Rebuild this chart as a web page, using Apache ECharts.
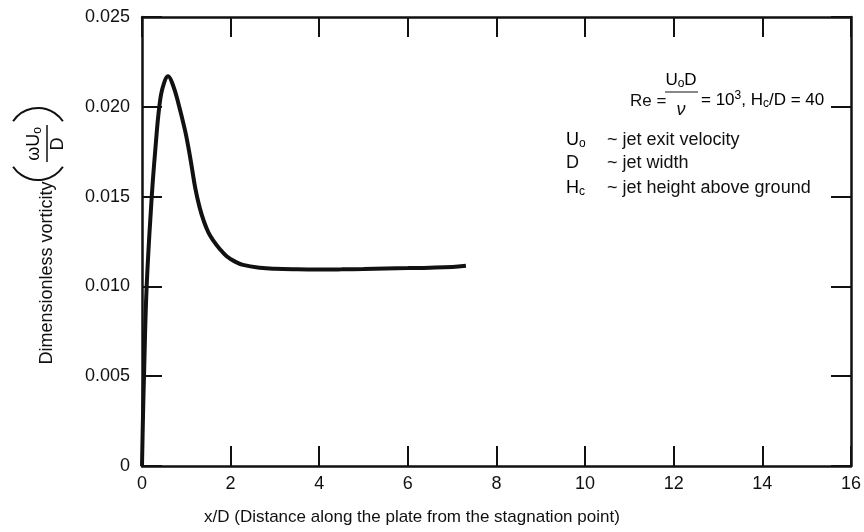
<!DOCTYPE html>
<html>
<head>
<meta charset="utf-8">
<script src="https://cdn.jsdelivr.net/npm/echarts@6/dist/echarts.min.js"></script>
<style>
  html, body { margin: 0; padding: 0; background: #fff; }
  #chart { width: 864px; height: 532px; }
</style>
</head>
<body>
<div id="chart"></div>
<script>
// Distance along the plate, x/D
const xOverD = [0, 0.02, 0.045, 0.105, 0.22, 0.30, 0.39, 0.47, 0.59, 0.70, 0.82, 0.97,
                1.05, 1.12, 1.20, 1.30, 1.40, 1.50, 1.61, 1.75, 1.91, 2.10, 2.28, 2.66,
                3.0, 3.5, 4.0, 4.5, 5.0, 5.5, 6.0, 6.5, 7.0, 7.31];
// Dimensionless vorticity, omega*Uo/D
const vorticity = [0, 0.0025, 0.0050, 0.0100, 0.0150, 0.0176, 0.0200, 0.0211, 0.0217, 0.0212,
                   0.0202, 0.0187, 0.0177, 0.0167, 0.0155, 0.0144, 0.0136, 0.0130, 0.01255,
                   0.0121, 0.01168, 0.01138, 0.0112, 0.01104, 0.01098, 0.01095, 0.01094,
                   0.01095, 0.01097, 0.01100, 0.01102, 0.01104, 0.01108, 0.01115];

const xRange = { min: 0, max: 16, step: 2 };
const yRange = { min: 0, max: 0.025, step: 0.005 };

const FONT = "'Liberation Sans', Arial, Helvetica, sans-serif";
const INK = '#111';

const chart = echarts.init(document.getElementById('chart'), null, { renderer: 'canvas' });

// every side of the frame carries inward ticks
const frameAxis = {
  axisLine: { show: true, onZero: false, lineStyle: { color: INK, width: 2.5 } },
  axisTick: { show: true, inside: true, length: 20, lineStyle: { color: INK, width: 2 } },
  splitLine: { show: false }
};

const sub = (size) => ({ fontSize: size, fontFamily: FONT, color: INK, verticalAlign: 'bottom', padding: [8, 0, 0, 0] });

const option = {
  backgroundColor: '#fff',
  animation: false,
  grid: { left: 142, right: 12, top: 17, bottom: 66 },
  xAxis: [
    Object.assign({
      type: 'value', position: 'bottom',
      min: xRange.min, max: xRange.max, interval: xRange.step,
      axisLabel: { show: true, margin: 9, fontSize: 18, fontFamily: FONT, color: INK }
    }, frameAxis),
    Object.assign({
      type: 'value', position: 'top',
      min: xRange.min, max: xRange.max, interval: xRange.step,
      axisLabel: { show: false }
    }, frameAxis)
  ],
  yAxis: [
    Object.assign({
      type: 'value', position: 'left',
      min: yRange.min, max: yRange.max, interval: yRange.step,
      axisLabel: {
        show: true, margin: 12, fontSize: 18, fontFamily: FONT, color: INK,
        formatter: (v) => (v === 0 ? '0' : v.toFixed(3))
      }
    }, frameAxis),
    Object.assign({
      type: 'value', position: 'right',
      min: yRange.min, max: yRange.max, interval: yRange.step,
      axisLabel: { show: false }
    }, frameAxis)
  ],
  series: [{
    type: 'line',
    xAxisIndex: 0, yAxisIndex: 0,
    data: xOverD.map((x, i) => [x, vorticity[i]]),
    smooth: 0.4,
    showSymbol: false,
    lineStyle: { color: INK, width: 4 },
    z: 3
  }],
  graphic: [
    // x-axis title
    {
      type: 'text', x: 204, y: 517,
      style: { text: 'x/D (Distance along the plate from the stagnation point)', font: '17px ' + FONT, fill: INK, verticalAlign: 'middle' }
    },
    // y-axis title with the (omega Uo / D) group, written bottom-to-top
    {
      type: 'group', x: 47, y: 273, rotation: Math.PI / 2,
      children: [
        { type: 'text', x: 0, y: 0,
          style: { text: 'Dimensionless vorticity', font: '18px ' + FONT, fill: INK, align: 'center', verticalAlign: 'middle' } },
        { type: 'text', x: 129, y: -13,
          style: { text: '{a|ωU}{s|o}', align: 'center', verticalAlign: 'middle',
                   rich: { a: { fontSize: 18, fontFamily: FONT, color: INK }, s: sub(12) } } },
        { type: 'line', shape: { x1: 111, y1: 0, x2: 148, y2: 0 }, style: { stroke: INK, lineWidth: 1.5 } },
        { type: 'text', x: 129, y: 11,
          style: { text: 'D', font: '18px ' + FONT, fill: INK, align: 'center', verticalAlign: 'middle' } },
        { type: 'arc', shape: { cx: 123, cy: -9, r: 30, startAngle: Math.PI - 0.98, endAngle: Math.PI + 0.98 },
          style: { stroke: INK, lineWidth: 2, fill: null } },
        { type: 'arc', shape: { cx: 135, cy: -9, r: 30, startAngle: -0.98, endAngle: 0.98 },
          style: { stroke: INK, lineWidth: 2, fill: null } }
      ]
    },
    // Reynolds number and height annotation
    { type: 'text', x: 630, y: 101,
      style: { text: 'Re =', font: '17px ' + FONT, fill: INK, verticalAlign: 'middle' } },
    { type: 'text', x: 681, y: 80,
      style: { text: '{a|U}{s|o}{a|D}', align: 'center', verticalAlign: 'middle',
               rich: { a: { fontSize: 17, fontFamily: FONT, color: INK }, s: sub(12) } } },
    { type: 'line', shape: { x1: 665, y1: 92, x2: 698, y2: 92 }, style: { stroke: INK, lineWidth: 1.2 } },
    { type: 'text', x: 681, y: 110,
      style: { text: 'ν', font: 'italic 18px ' + FONT, fill: INK, align: 'center', verticalAlign: 'middle' } },
    { type: 'text', x: 701, y: 100,
      style: { text: '{a|= 10}{p|3}{a|, H}{s|c}{a|/D = 40}', verticalAlign: 'middle',
               rich: {
                 a: { fontSize: 17, fontFamily: FONT, color: INK },
                 p: { fontSize: 12, fontFamily: FONT, color: INK, verticalAlign: 'top', padding: [0, 0, 8, 0] },
                 s: sub(12)
               } } },
    // Symbol definitions
    { type: 'text', x: 566, y: 140,
      style: { text: '{a|U}{s|o}', verticalAlign: 'middle',
               rich: { a: { fontSize: 18, fontFamily: FONT, color: INK }, s: sub(12) } } },
    { type: 'text', x: 607, y: 140,
      style: { text: '~ jet exit velocity', font: '18px ' + FONT, fill: INK, verticalAlign: 'middle' } },
    { type: 'text', x: 566, y: 163,
      style: { text: 'D', font: '18px ' + FONT, fill: INK, verticalAlign: 'middle' } },
    { type: 'text', x: 607, y: 163,
      style: { text: '~ jet width', font: '18px ' + FONT, fill: INK, verticalAlign: 'middle' } },
    { type: 'text', x: 566, y: 188,
      style: { text: '{a|H}{s|c}', verticalAlign: 'middle',
               rich: { a: { fontSize: 18, fontFamily: FONT, color: INK }, s: sub(12) } } },
    { type: 'text', x: 607, y: 188,
      style: { text: '~ jet height above ground', font: '18px ' + FONT, fill: INK, verticalAlign: 'middle' } }
  ]
};

chart.setOption(option);
</script>
</body>
</html>
